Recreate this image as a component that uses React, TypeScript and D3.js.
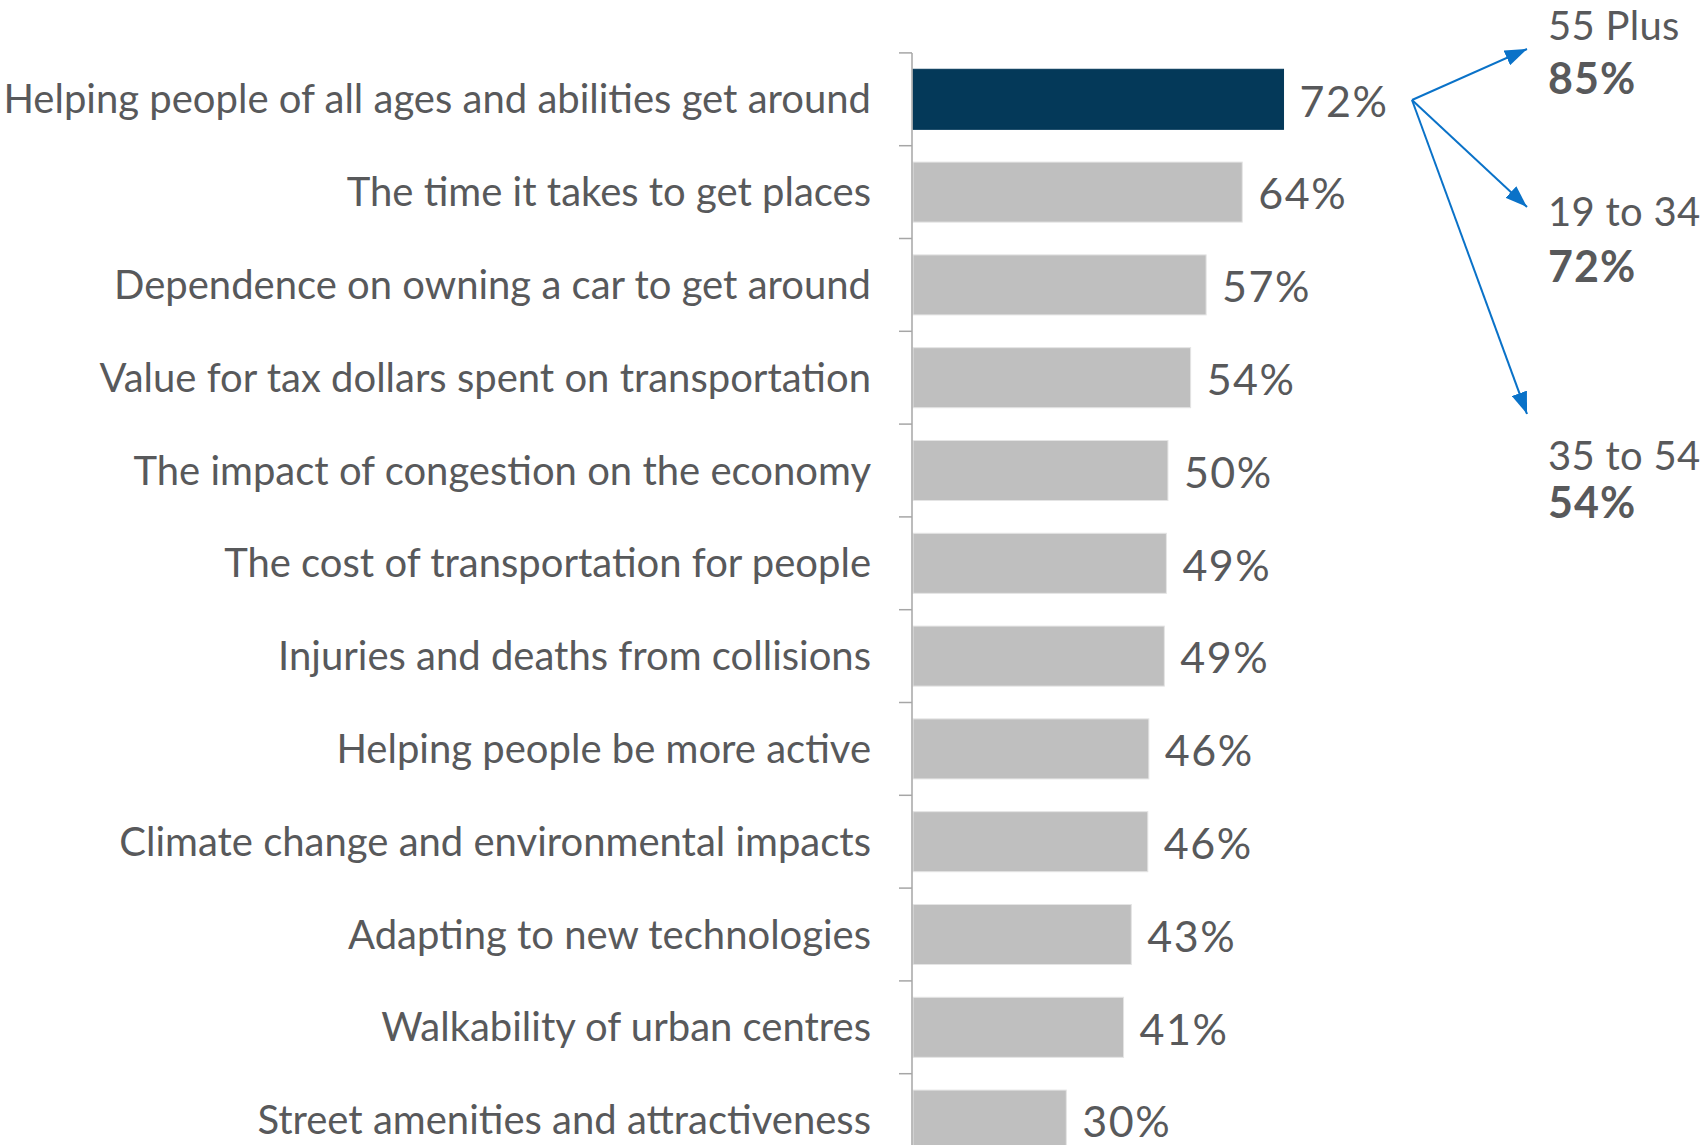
import React from "react";
import * as d3 from "d3";

const categories = [
  "Helping people of all ages and abilities get around",
  "The time it takes to get places",
  "Dependence on owning a car to get around",
  "Value for tax dollars spent on transportation",
  "The impact of congestion on the economy",
  "The cost of transportation for people",
  "Injuries and deaths from collisions",
  "Helping people be more active",
  "Climate change and environmental impacts",
  "Adapting to new technologies",
  "Walkability of urban centres",
  "Street amenities and attractiveness",
];

const values = [72, 64, 57, 54, 49.6, 49.3, 48.9, 45.9, 45.7, 42.5, 41.0, 29.9];

const highlightIndex = 0;

const ageGroups = ["55 Plus", "19 to 34", "35 to 54"];
const ageValues = [85, 72, 54];

const W = 1706;
const H = 1145;
const FONT = "Lato, 'Open Sans', sans-serif";
const TEXT = "#58595B";
const NAVY = "#043959";
const GRAY = "#BFBFBF";
const BLUE = "#0A72C8";

export default function App() {
  const axisX = 912;
  const pxPerPct = 5.16;
  const x = d3.scaleLinear().domain([0, 100]).range([axisX, axisX + 100 * pxPerPct]);
  const top = 52.9;
  const step = 92.8;
  const y = d3
    .scaleBand<string>()
    .domain(categories)
    .range([top, top + step * categories.length])
    .paddingInner(0.353)
    .paddingOuter(0.1765);

  const ticks = d3.range(categories.length + 1).map((i) => top + i * step);

  const origin = { x: 1412, y: 100 };
  const tips = [
    { x: 1527, y: 49 },
    { x: 1527, y: 207 },
    { x: 1527, y: 414 },
  ];
  const textX = 1548;
  const groupBaselines = [40, 226, 470];
  const valueBaselines = [94, 282, 518];

  return (
    <div style={{ position: "absolute", left: 0, top: 0, width: W, height: H, overflow: "hidden", background: "#fff" }}>
      <svg width={W} height={H} style={{ display: "block" }}>
        <defs>
          <marker
            id="arrowhead"
            markerUnits="userSpaceOnUse"
            markerWidth={22}
            markerHeight={16}
            refX={22}
            refY={8}
            orient="auto"
          >
            <path d="M0,0 L22,8 L0,16 Z" fill={BLUE} />
          </marker>
        </defs>

        {/* bars */}
        {categories.map((c, i) => (
          <rect
            key={c}
            x={x(0) + 1}
            y={y(c)}
            width={x(values[i]) - x(0) - 1}
            height={y.bandwidth()}
            fill={i === highlightIndex ? NAVY : GRAY}
            stroke={i === highlightIndex ? NAVY : "#E4E4E4"}
            strokeWidth={1}
          />
        ))}

        {/* axis */}
        <line x1={axisX} x2={axisX} y1={top} y2={H + 30} stroke="#A6A6A6" strokeWidth={1.5} />
        {ticks.map((t, i) => (
          <line key={i} x1={axisX - 13} x2={axisX} y1={t} y2={t} stroke="#A6A6A6" strokeWidth={1.5} />
        ))}

        {/* category labels */}
        {categories.map((c) => (
          <text
            key={c}
            x={871}
            y={(y(c) as number) + y.bandwidth() / 2}
            dy="0.35em"
            textAnchor="end"
            fontFamily={FONT}
            fontSize={40}
            fill={TEXT}
          >
            {c}
          </text>
        ))}

        {/* value labels */}
        {categories.map((c, i) => (
          <text
            key={c}
            x={x(values[i]) + 16}
            y={(y(c) as number) + y.bandwidth() / 2}
            dy="0.4em"
            textAnchor="start"
            fontFamily={FONT}
            fontSize={43}
            letterSpacing={1.5}
            fill={TEXT}
          >
            {Math.round(values[i])}%
          </text>
        ))}

        {/* arrows */}
        {tips.map((t, i) => (
          <line
            key={i}
            x1={origin.x}
            y1={origin.y}
            x2={t.x}
            y2={t.y}
            stroke={BLUE}
            strokeWidth={2}
            markerEnd="url(#arrowhead)"
          />
        ))}

        {/* age group annotations */}
        {ageGroups.map((g, i) => (
          <g key={g}>
            <text x={textX} y={groupBaselines[i]} fontFamily={FONT} fontSize={40} letterSpacing={0.3} fill={TEXT}>
              {g}
            </text>
            <text
              x={textX}
              y={valueBaselines[i]}
              fontFamily={FONT}
              fontSize={43}
              fontWeight="bold"
              letterSpacing={1}
              fill={TEXT}
            >
              {ageValues[i]}%
            </text>
          </g>
        ))}
      </svg>
    </div>
  );
}
